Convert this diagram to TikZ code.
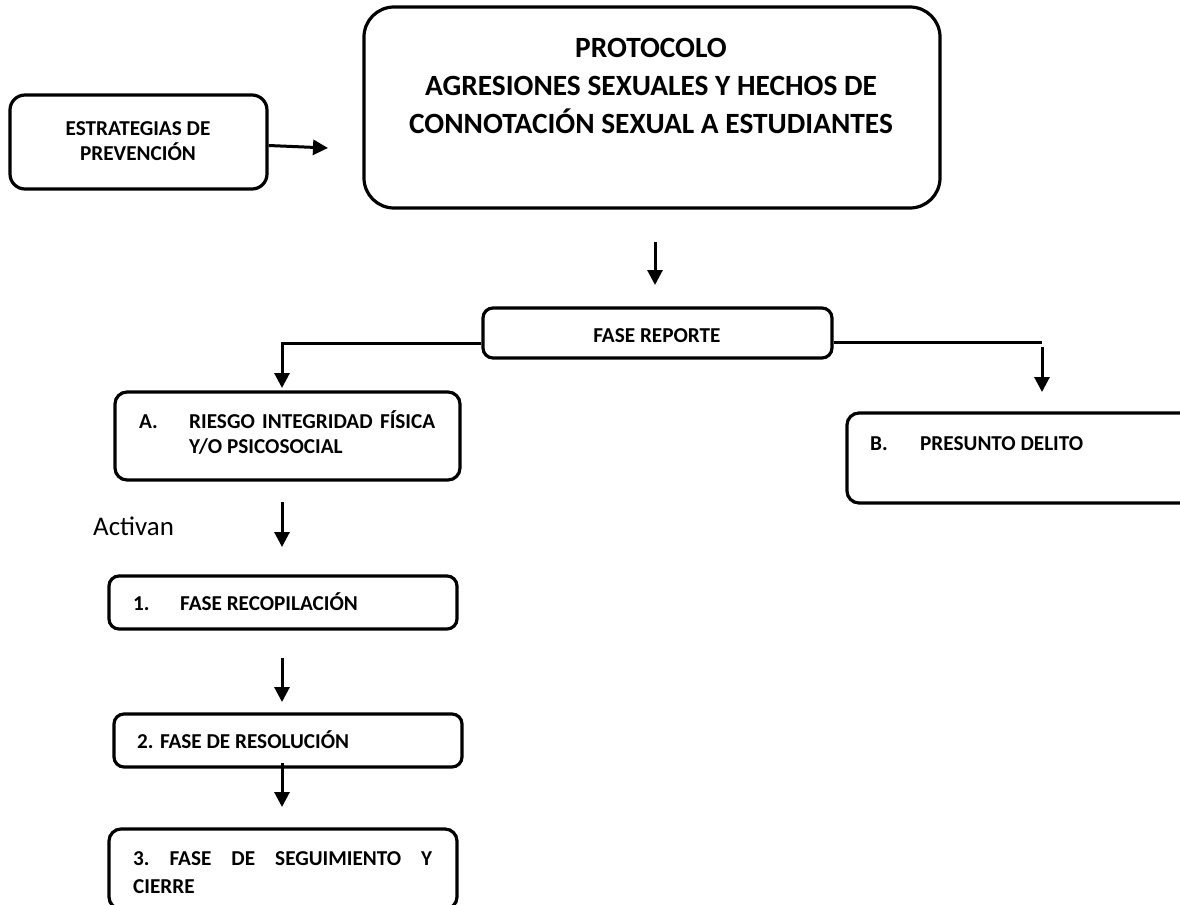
\documentclass[tikz,border=0pt]{standalone}
\usepackage{fontspec}
\setmainfont{Carlito}
\usetikzlibrary{arrows.meta}
\begin{document}
\begin{tikzpicture}[x=1bp,y=-1bp,
  box/.style={draw=black,line width=3.2bp,rectangle,inner sep=0pt},
  txt/.style={inner sep=0pt,font=\fontsize{21.3}{25}\selectfont\bfseries},
  big/.style={inner sep=0pt,font=\fontsize{29.5}{34}\selectfont\bfseries},
  arr/.style={line width=3bp,-{Triangle[length=15bp,width=15bp]}},
  conn/.style={line width=3bp}]
\useasboundingbox (0,0) rectangle (1180,905);
\clip (0,0) rectangle (1180,905);
% boxes
\node[box,rounded corners=15bp,minimum width=257bp,minimum height=94bp] (estr) at (138.5,142) {};
\node[box,rounded corners=30bp,minimum width=576bp,minimum height=201bp] (main) at (652,107.5) {};
\node[box,rounded corners=10bp,minimum width=349bp,minimum height=50bp] (rep) at (657.5,333) {};
\node[box,rounded corners=12bp,minimum width=345bp,minimum height=88bp] (boxA) at (287.5,436) {};
\node[box,rounded corners=12bp,minimum width=348bp,minimum height=90bp] (boxB) at (1021,458) {};
\node[box,rounded corners=10bp,minimum width=348bp,minimum height=53bp] (box1) at (283,602.5) {};
\node[box,rounded corners=10bp,minimum width=348bp,minimum height=53bp] (box2) at (288,740.5) {};
\node[box,rounded corners=12bp,minimum width=348bp,minimum height=80bp] (box3) at (283,869) {};
% texts
\node[txt,anchor=base] (estr1) at (138,135) {ESTRATEGIAS DE};
\node[txt,anchor=base] (estr2) at (138,160) {PREVENCIÓN};
\node[big,anchor=base] (t1) at (651,57) {PROTOCOLO};
\node[big,anchor=base] (t2) at (651,95) {AGRESIONES SEXUALES Y HECHOS DE};
\node[big,anchor=base] (t3) at (651,133) {CONNOTACIÓN SEXUAL A ESTUDIANTES};
\node[txt,anchor=base] (rept) at (657,342) {FASE REPORTE};
\node[txt,anchor=base west] (aA) at (139,428) {A.};
\node[txt,anchor=base west] (aA1) at (189,428) {\makebox[246bp][s]{RIESGO\hfill INTEGRIDAD\hfill FÍSICA}};
\node[txt,anchor=base west] (aA2) at (189,453) {Y/O PSICOSOCIAL};
\node[txt,anchor=base west] (bB) at (870,450) {B.};
\node[txt,anchor=base west] (bB1) at (920,450) {PRESUNTO DELITO};
\node[inner sep=0pt,font=\fontsize{27}{31}\selectfont,anchor=base west] (act) at (93,535) {Activan};
\node[txt,anchor=base west] (n1) at (133,610) {1.};
\node[txt,anchor=base west] (n1t) at (180,610) {FASE RECOPILACIÓN};
\node[txt,anchor=base west] (n2t) at (137,748) {2. FASE DE RESOLUCIÓN};
\node[txt,anchor=base west] (n3a) at (133,865) {\makebox[299bp][s]{3.\hfill FASE\hfill DE\hfill SEGUIMIENTO\hfill Y}};
\node[txt,anchor=base west] (n3b) at (133,893) {CIERRE};
% connector points
\coordinate (pE) at (328,148);
\coordinate (m1) at (655,242);
\coordinate (m2) at (655,285);
\coordinate (lc) at (282,343);
\coordinate (lt) at (282,388);
\coordinate (rc) at (1042,342);
\coordinate (rs) at (1042,347);
\coordinate (rt) at (1042,392);
\coordinate (a1) at (282,502);
\coordinate (a2) at (282,547);
\coordinate (b1) at (282,658);
\coordinate (b2) at (282,702);
\coordinate (c1) at (282,763);
\coordinate (c2) at (282,807);
% connectors
\draw[arr] ([yshift=-3.5bp]estr.east) -- (pE);
\draw[arr] (m1) -- (m2);
\draw[arr] (rep.west |- lc) -- (lc) -- (lt);
\draw[conn] (rep.east |- rc) -- (rc);
\draw[arr] (rs) -- (rt);
\draw[arr] (a1) -- (a2);
\draw[arr] (b1) -- (b2);
\draw[arr] (c1) -- (c2);
\end{tikzpicture}
\end{document}
